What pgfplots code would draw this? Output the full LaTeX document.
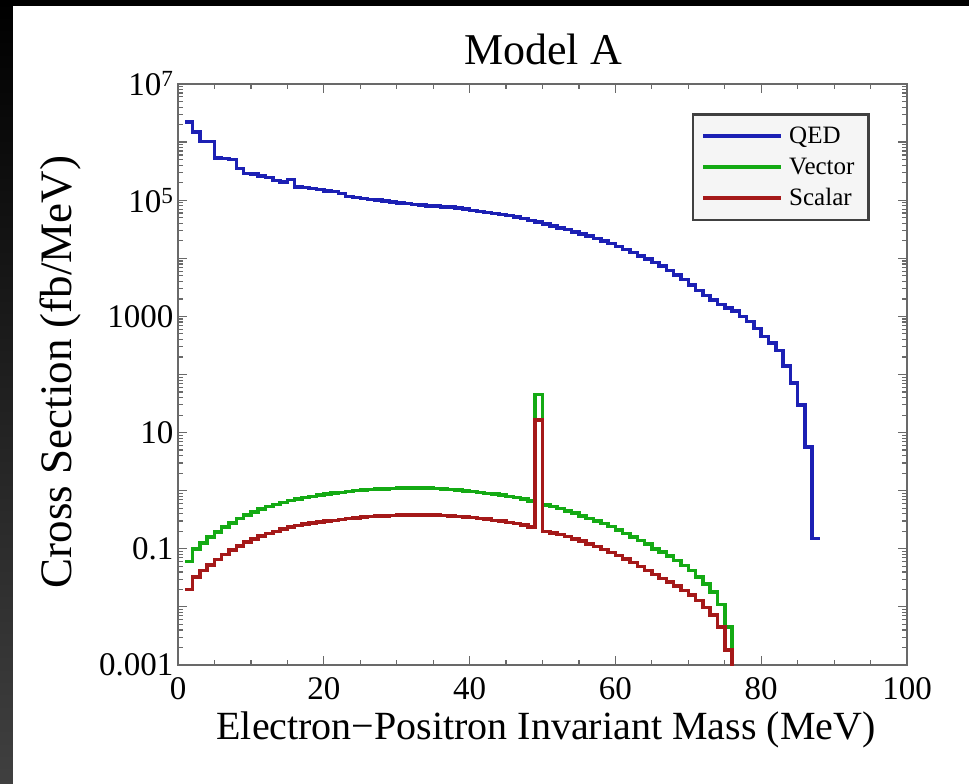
\documentclass[border=0pt]{standalone}
\usepackage{pgfplots}
\pgfplotsset{compat=1.18}
\usepackage{fontspec}
\setmainfont{Liberation Serif}
\definecolor{qedblue}{RGB}{28,32,180}
\definecolor{vecgreen}{RGB}{20,170,20}
\definecolor{scared}{RGB}{165,25,25}
\definecolor{framegray}{RGB}{105,105,105}
\begin{document}
\begin{tikzpicture}[x=1pt,y=1pt]
\fill[black] (0,0) rectangle (969,784);
\shade[top color=black, bottom color=black!75!white] (0,0) rectangle (13,784);
\fill[white] (13,0) rectangle (969,778);
\begin{axis}[
  at={(178pt,119pt)}, anchor=south west,
  scale only axis, width=729pt, height=581pt,
  xmin=0, xmax=100, ymode=log, ymin=1e-3, ymax=1e7,
  xtick={0,20,40,60,80,100},
  xticklabels={0,20,40,60,80,100},
  minor x tick num=3,
  ytick={1e-3,1e-2,1e-1,1,10,100,1000,1e4,1e5,1e6,1e7},
  yticklabels={0.001,{},0.1,{},10,{},1000,{},10\textsuperscript{5},{},10\textsuperscript{7}},
  tick align=inside,
  major tick length=9pt, minor tick length=5pt,
  every tick/.style={framegray, line width=1.2pt},
  axis line style={framegray, line width=1.6pt},
  ticklabel style={font=\fontsize{33}{33}\selectfont},
  xticklabel style={yshift=-9pt},
  yticklabel style={xshift=-1pt},
  legend style={at={(0.705,0.950)}, anchor=north west, fill=black!4, draw=black!75, line width=2.5pt,
    font=\fontsize{25}{26}\selectfont, cells={anchor=west}, inner xsep=8pt, inner ysep=11pt, row sep=8.5pt,
    nodes={inner xsep=6pt}},
  legend image code/.code={\draw[#1, line width=4pt] (0pt,0pt) -- (78pt,0pt);},
]
\addplot[qedblue, line width=3.5pt, const plot mark left] coordinates {
(1,2.2e6)(2,1.5e6)(3,1.02e6)(4,1.02e6)(5,5.3e5)(6,5.2e5)(7,5.0e5)(8,3.5e5)(9,2.9e5)(10,2.8e5)
(11,2.6e5)(12,2.45e5)(13,2.2e5)(14,2.05e5)(15,2.25e5)(16,1.7e5)(17,1.65e5)(18,1.6e5)(19,1.52e5)(20,1.45e5)
(21,1.4e5)(22,1.3e5)(23,1.15e5)(24,1.11e5)(25,1.07e5)(26,1.03e5)(27,1.0e5)(28,9.6e4)(29,9.3e4)(30,8.9e4)
(31,8.7e4)(32,8.4e4)(33,8.2e4)(34,8.0e4)(35,7.9e4)(36,7.7e4)(37,7.6e4)(38,7.3e4)(39,7.0e4)(40,6.7e4)
(41,6.4e4)(42,6.1e4)(43,5.9e4)(44,5.7e4)(45,5.4e4)(46,5.1e4)(47,4.8e4)(48,4.5e4)(49,4.2e4)(50,3.9e4)
(51,3.6e4)(52,3.35e4)(53,3.1e4)(54,2.85e4)(55,2.6e4)(56,2.4e4)(57,2.2e4)(58,2.0e4)(59,1.8e4)(60,1.6e4)
(61,1.42e4)(62,1.26e4)(63,1.1e4)(64,9.7e3)(65,8.5e3)(66,7.3e3)(67,6.2e3)(68,5.2e3)(69,4.3e3)(70,3.5e3)
(71,2.8e3)(72,2.3e3)(73,1.9e3)(74,1.6e3)(75,1.4e3)(76,1.25e3)(77,1.0e3)(78,810)(79,620)(80,450)
(81,350)(82,260)(83,140)(84,71)(85,30)(86,5.7)(87,0.15)(88,0.15)
};
\addlegendentry{QED}
\addplot[vecgreen, line width=3.5pt, const plot mark left] coordinates {
(1,0.060)(2,0.10)(3,0.127)(4,0.16)(5,0.195)(6,0.235)(7,0.28)(8,0.33)(9,0.38)(10,0.43)
(11,0.48)(12,0.53)(13,0.58)(14,0.63)(15,0.68)(16,0.72)(17,0.76)(18,0.80)(19,0.84)(20,0.88)
(21,0.91)(22,0.94)(23,0.97)(24,1.00)(25,1.02)(26,1.04)(27,1.06)(28,1.08)(29,1.10)(30,1.11)
(31,1.12)(32,1.12)(33,1.12)(34,1.11)(35,1.10)(36,1.08)(37,1.05)(38,1.02)(39,0.99)(40,0.96)
(41,0.93)(42,0.90)(43,0.87)(44,0.84)(45,0.80)(46,0.76)(47,0.72)(48,0.67)(49,45)(50,0.57)
(51,0.53)(52,0.49)(53,0.45)(54,0.41)(55,0.37)(56,0.33)(57,0.30)(58,0.27)(59,0.24)(60,0.21)
(61,0.185)(62,0.16)(63,0.14)(64,0.12)(65,0.10)(66,0.088)(67,0.075)(68,0.063)(69,0.052)(70,0.042)
(71,0.033)(72,0.025)(73,0.018)(74,0.011)(75,0.0045)(76,1e-5)
};
\addlegendentry{Vector}
\addplot[scared, line width=3.5pt, const plot mark left] coordinates {
(1,0.020)(2,0.033)(3,0.042)(4,0.053)(5,0.065)(6,0.080)(7,0.096)(8,0.112)(9,0.13)(10,0.148)
(11,0.166)(12,0.185)(13,0.20)(14,0.22)(15,0.235)(16,0.25)(17,0.265)(18,0.28)(19,0.29)(20,0.30)
(21,0.31)(22,0.32)(23,0.33)(24,0.34)(25,0.35)(26,0.36)(27,0.365)(28,0.37)(29,0.375)(30,0.38)
(31,0.38)(32,0.385)(33,0.385)(34,0.38)(35,0.38)(36,0.375)(37,0.37)(38,0.36)(39,0.355)(40,0.345)
(41,0.335)(42,0.325)(43,0.31)(44,0.30)(45,0.285)(46,0.27)(47,0.255)(48,0.235)(49,16.5)(50,0.20)
(51,0.188)(52,0.175)(53,0.162)(54,0.148)(55,0.135)(56,0.122)(57,0.11)(58,0.098)(59,0.087)(60,0.077)
(61,0.067)(62,0.058)(63,0.05)(64,0.042)(65,0.036)(66,0.031)(67,0.027)(68,0.023)(69,0.019)(70,0.016)
(71,0.013)(72,0.0098)(73,0.0072)(74,0.0045)(75,0.0018)(76,1e-5)
};
\addlegendentry{Scalar}
\end{axis}
\node[anchor=base, font=\fontsize{44}{44}\selectfont] at (543,719) {Model A};
\node[anchor=base, font=\fontsize{40}{40}\selectfont] at (546,44) {Electron−Positron Invariant Mass (MeV)};
\node[rotate=90, font=\fontsize{45}{45}\selectfont] at (60,412) {Cross Section (fb/MeV)};
\pgfresetboundingbox
\useasboundingbox (0,0) rectangle (969,784);
\end{tikzpicture}
\end{document}
